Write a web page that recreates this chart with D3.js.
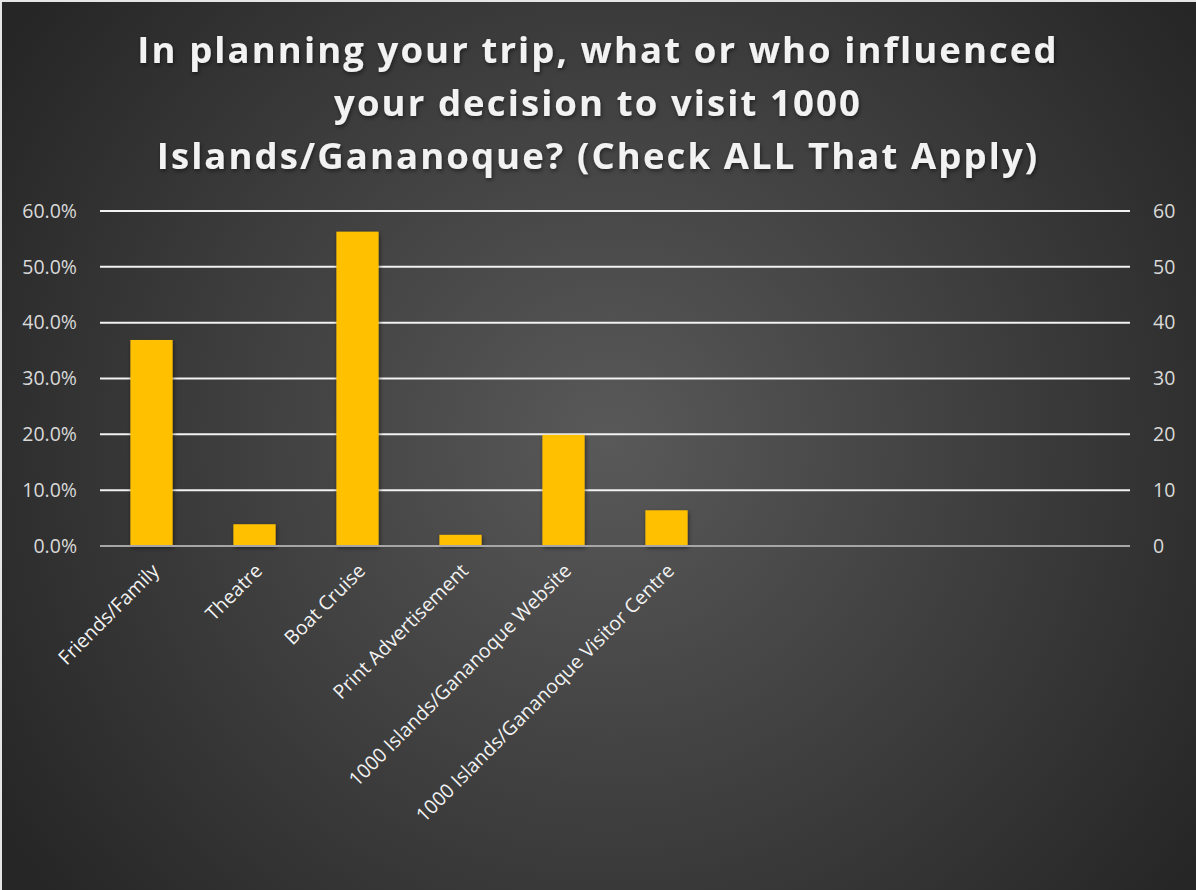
<!DOCTYPE html>
<html lang="en">
<head>
<script src="https://d3js.org/d3.v7.min.js"></script>
<style>
  body { margin: 0; background: #fff; }
</style>
</head>
<body>
<script>
  var width = 1196;
  var height = 890;

  // data
  var categories = ["Friends/Family", "Theatre", "Boat Cruise", "Print Advertisement",
                    "1000 Islands/Gananoque Website", "1000 Islands/Gananoque Visitor Centre",
                    "c7", "c8", "c9", "c10"];
  var values = [36.9, 3.9, 56.3, 2.0, 19.9, 6.4, null, null, null, null];
  var leftTicks = [0, 10, 20, 30, 40, 50, 60];
  var titleLines = ["In planning your trip, what or who influenced",
                    "your decision to visit 1000",
                    "Islands/Gananoque? (Check ALL That Apply)"];

  var plot = { left: 100, right: 1130, top: 211, bottom: 546 };

  var svg = d3.select("body").append("svg")
              .attr("width", width)
              .attr("height", height);

  var defs = svg.append("defs");
  var grad = defs.append("radialGradient")
                 .attr("id", "bg")
                 .attr("gradientUnits", "userSpaceOnUse")
                 .attr("cx", 610).attr("cy", 440).attr("r", 720);
  grad.append("stop").attr("offset", "0%").attr("stop-color", "#595959");
  grad.append("stop").attr("offset", "100%").attr("stop-color", "#262626");

  var shadow = defs.append("filter").attr("id", "shadow")
                   .attr("x", "-20%").attr("y", "-20%").attr("width", "140%").attr("height", "140%");
  shadow.append("feDropShadow").attr("dx", 1).attr("dy", 2).attr("stdDeviation", 2)
        .attr("flood-color", "#000").attr("flood-opacity", 0.5);

  // frame and background
  svg.append("rect").attr("x", 0).attr("y", 0).attr("width", width).attr("height", height)
     .attr("fill", "#e6e6e6");
  svg.append("rect").attr("x", 2).attr("y", 2).attr("width", width - 2).attr("height", height - 2)
     .attr("fill", "url(#bg)");

  // title
  svg.append("g").selectAll("text")
     .data(titleLines)
     .enter().append("text")
     .attr("x", 598)
     .attr("y", function (d, i) { return 63 + i * 53; })
     .attr("text-anchor", "middle")
     .attr("font-family", "'Open Sans', sans-serif")
     .attr("font-weight", "bold")
     .attr("font-size", 36.5)
     .attr("letter-spacing", 2.1)
     .attr("fill", "#f2f2f2")
     .attr("filter", "url(#shadow)")
     .text(function (d) { return d; });

  var x = d3.scaleBand()
            .domain(categories)
            .range([plot.left, plot.right])
            .paddingInner(0.59)
            .paddingOuter(0.295);

  var y = d3.scaleLinear().domain([0, 60]).range([plot.bottom, plot.top]);

  // gridlines
  svg.append("g").selectAll("line")
     .data(leftTicks.filter(function (d) { return d > 0; }))
     .enter().append("line")
     .attr("x1", plot.left).attr("x2", plot.right)
     .attr("y1", function (d) { return y(d); })
     .attr("y2", function (d) { return y(d); })
     .attr("stroke", "#f2f2f2")
     .attr("stroke-width", 2);

  // left axis
  var leftAxis = svg.append("g")
     .attr("transform", "translate(" + plot.left + ",0)")
     .call(d3.axisLeft(y).tickValues(leftTicks).tickSize(0).tickPadding(23)
             .tickFormat(function (d) { return d.toFixed(1) + "%"; }));
  leftAxis.select(".domain").remove();

  // right axis
  var rightAxis = svg.append("g")
     .attr("transform", "translate(" + plot.right + ",0)")
     .call(d3.axisRight(y).tickValues(leftTicks).tickSize(0).tickPadding(23));
  rightAxis.select(".domain").remove();

  svg.selectAll(".tick text")
     .attr("font-family", "'Open Sans', sans-serif")
     .attr("font-size", 19.5)
     .attr("fill", "#d9d9d9");

  // bars
  svg.append("g").selectAll("rect")
     .data(categories.map(function (c, i) { return { cat: c, v: values[i] }; })
                     .filter(function (d) { return d.v != null; }))
     .enter().append("rect")
     .attr("x", function (d) { return x(d.cat); })
     .attr("y", function (d) { return y(d.v); })
     .attr("width", x.bandwidth())
     .attr("height", function (d) { return y(0) - y(d.v); })
     .attr("fill", "#ffc000")
     .attr("filter", "url(#shadow)");

  // baseline
  svg.append("line")
     .attr("x1", plot.left).attr("x2", plot.right)
     .attr("y1", y(0)).attr("y2", y(0))
     .attr("stroke", "#a6a6a6")
     .attr("stroke-width", 2);

  // category labels
  svg.append("g").selectAll("text")
     .data(categories.slice(0, 6))
     .enter().append("text")
     .attr("transform", function (d) {
         return "translate(" + (x(d) + x.bandwidth() / 2 + 9) + "," + (plot.bottom + 26) + ") rotate(-45)";
     })
     .attr("text-anchor", "end")
     .attr("font-family", "'Open Sans', sans-serif")
     .attr("font-size", 19.5)
     .attr("fill", "#f2f2f2")
     .text(function (d) { return d; });
</script>
</body>
</html>
